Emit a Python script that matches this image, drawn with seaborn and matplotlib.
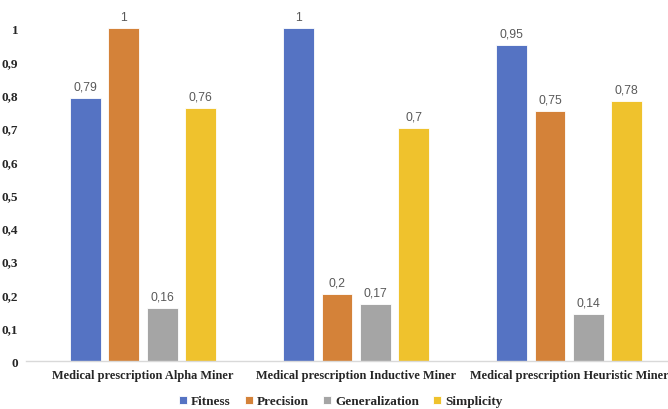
import numpy as np
import matplotlib
matplotlib.use("Agg")
import matplotlib.pyplot as plt
import pandas as pd
import seaborn as sns

# data
groups = ["Medical prescription Alpha Miner",
          "Medical prescription Inductive Miner",
          "Medical prescription Heuristic Miner"]
metrics = ["Fitness", "Precision", "Generalization", "Simplicity"]
fitness = [0.79, 1.0, 0.95]
precision = [1.0, 0.2, 0.75]
generalization = [0.16, 0.17, 0.14]
simplicity = [0.76, 0.7, 0.78]
yticks = [0, 0.1, 0.2, 0.3, 0.4, 0.5, 0.6, 0.7, 0.8, 0.9, 1]

colors = ["#5573C3", "#D48239", "#A5A5A5", "#EFC22D"]

rows = []
for name, vals in zip(metrics, [fitness, precision, generalization, simplicity]):
    for g, v in zip(groups, vals):
        rows.append({"group": g, "metric": name, "value": v})
df = pd.DataFrame(rows)

sns.set_style("white")
serif = ["Liberation Serif", "DejaVu Serif"]

def fmt(v):
    s = ("%g" % v)
    return s.replace(".", ",")

fig = plt.figure(figsize=(6.68, 4.1), dpi=100)
ax = fig.add_axes([0.0546, 0.117, 0.957, 0.812])

sns.barplot(data=df, x="group", y="value", hue="metric", order=groups,
            hue_order=metrics, palette=colors, saturation=1, width=0.72, gap=0.2,
            edgecolor="white", linewidth=0.6, ax=ax, legend=True)

for cont in ax.containers:
    ax.bar_label(cont, labels=[fmt(v) for v in cont.datavalues], padding=4,
                 fontsize=8.8, color="#595959", family="Liberation Sans",
                 clip_on=False)

ax.set_ylim(0, 1)
ax.set_xlim(-0.5, 2.5)
ax.set_yticks(yticks)
ax.set_yticklabels([fmt(v) for v in yticks], family=serif, fontweight="bold",
                   fontsize=9.5)
ax.set_xticklabels(groups, family=serif, fontweight="bold", fontsize=8.9)
ax.tick_params(axis="both", length=0)
ax.tick_params(axis="y", pad=13)
ax.tick_params(axis="x", pad=6)
# last label sits against the right edge, as in the reference
ax.get_xticklabels()[-1].set_x(2.47)
ax.set_xlabel("")
ax.set_ylabel("")
for s in ["top", "right", "left"]:
    ax.spines[s].set_visible(False)
ax.spines["bottom"].set_color("#D9D9D9")
ax.spines["bottom"].set_linewidth(1)
ax.spines["bottom"].set_bounds(-0.55, 2.5)

handles, labels = ax.get_legend_handles_labels()
ax.get_legend().remove()
fig.legend(handles, labels, loc="lower center", ncol=4, frameon=False,
           bbox_to_anchor=(0.51, -0.025), handlelength=0.6, handleheight=0.6,
           handletextpad=0.3, columnspacing=1.1,
           prop={"family": serif, "weight": "bold", "size": 9.5})

fig.savefig("out.png", dpi=100)
